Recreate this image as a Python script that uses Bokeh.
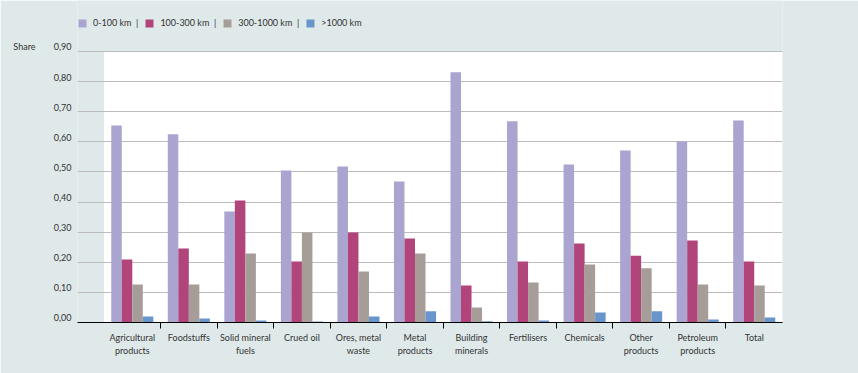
from bokeh.plotting import figure
from bokeh.models import (Range1d, FixedTicker, Legend, LegendItem, BoxAnnotation,
                          ColumnDataSource, LinearAxis)
from bokeh.transform import dodge
from bokeh.embed import file_html
from bokeh.resources import INLINE

# ---------------- data ----------------
categories = ["Agricultural\nproducts", "Foodstuffs", "Solid mineral\nfuels", "Crued oil",
              "Ores, metal\nwaste", "Metal\nproducts", "Building\nminerals", "Fertilisers",
              "Chemicals", "Other\nproducts", "Petroleum\nproducts", "Total"]
km_0_100 = [0.654, 0.625, 0.369, 0.505, 0.518, 0.468, 0.831, 0.668, 0.525, 0.571, 0.601, 0.671]
km_100_300 = [0.209, 0.246, 0.405, 0.203, 0.299, 0.279, 0.123, 0.203, 0.262, 0.222, 0.272, 0.203]
km_300_1000 = [0.126, 0.126, 0.229, 0.299, 0.169, 0.229, 0.050, 0.133, 0.193, 0.180, 0.126, 0.123]
km_over_1000 = [0.020, 0.013, 0.007, 0.003, 0.020, 0.037, 0.004, 0.007, 0.033, 0.037, 0.010, 0.017]
series_labels = ["0-100 km  |", "100-300 km  |", "300-1000 km  |", ">1000 km"]
y_ticks = [0.0, 0.1, 0.2, 0.3, 0.4, 0.5, 0.6, 0.7, 0.8, 0.9]
y_tick_labels = ["0,00", "0,10", "0,20", "0,30", "0,40", "0,50", "0,60", "0,70", "0,80", "0,90"]
y_title = "Share"
y_max = 0.9

# ---------------- styles ----------------
BG = "#dfe9e9"
COLORS = ["#a9a4d0", "#b0447b", "#a69d98", "#6895cc"]
FONT = "Lato"
TXT = "#333333"
BAR_W = 0.186
LABEL_LIFT = 0.015   # tick labels sit a few pixels above their grid line

centers = [i + 0.5 for i in range(len(categories))]
boundaries = [float(i) for i in range(1, len(categories))]
label_pos = [round(t + LABEL_LIFT, 4) for t in y_ticks]

source = ColumnDataSource(dict(x=centers, a=km_0_100, b=km_100_300, c=km_300_1000, d=km_over_1000))

# frame spans from the very top (legend lives inside it), y_max sits 51px below the top
p = figure(width=858, height=373, output_backend="svg", toolbar_location=None,
           x_range=Range1d(-0.469, 12), y_range=Range1d(0, 1.0694),
           min_border_left=77, min_border_right=76, min_border_top=0, min_border_bottom=51)
p.border_fill_color = BG
p.background_fill_color = BG
p.outline_line_color = None

p.add_layout(BoxAnnotation(left=0, right=12, bottom=0, top=y_max, fill_color="white",
                           fill_alpha=1, line_color=None, level="image"))

renderers = []
for i, col in enumerate(["a", "b", "c", "d"]):
    off = (i - 1.5) * BAR_W
    r = p.vbar(x=dodge("x", off), top=col, width=BAR_W, source=source,
               fill_color=COLORS[i], line_color=None)
    renderers.append(r)

# grid
p.xgrid.visible = False
p.ygrid.ticker = FixedTicker(ticks=y_ticks)
p.ygrid.grid_line_color = "#bcbcbc"
p.ygrid.grid_line_width = 1


def style_y(ax, standoff):
    ax.axis_line_color = None
    ax.major_tick_line_color = None
    ax.minor_tick_line_color = None
    ax.major_tick_out = 0
    ax.major_tick_in = 0
    ax.minor_tick_out = 0
    ax.major_label_standoff = standoff
    ax.major_label_text_font = FONT
    ax.major_label_text_font_size = "9px"
    ax.major_label_text_color = TXT


# y axis (values)
yax = p.yaxis[0]
yax.ticker = FixedTicker(ticks=label_pos)
yax.major_label_overrides = {t: l for t, l in zip(label_pos, y_tick_labels)}
style_y(yax, 6)

# second left axis carrying the "Share" title at the level of the top tick
title_pos = round(y_max + LABEL_LIFT, 4)
tax = LinearAxis(ticker=FixedTicker(ticks=[title_pos]),
                 major_label_overrides={title_pos: y_title})
style_y(tax, 15)
p.add_layout(tax, "left")

# x axis
p.xaxis.ticker = FixedTicker(ticks=centers, minor_ticks=boundaries)
p.xaxis.major_label_overrides = {c: l for c, l in zip(centers, categories)}
p.xaxis.axis_line_color = "black"
p.xaxis.axis_line_width = 1
p.xaxis.major_tick_line_color = None
p.xaxis.major_tick_out = 6
p.xaxis.major_tick_in = 0
p.xaxis.minor_tick_line_color = "black"
p.xaxis.minor_tick_out = 6
p.xaxis.minor_tick_in = 0
p.xaxis.major_label_standoff = 3
p.xaxis.major_label_text_font = FONT
p.xaxis.major_label_text_font_size = "9px"
p.xaxis.major_label_text_color = TXT

# legend (inside the frame, above the white plotting box)
legend = Legend(items=[LegendItem(label=series_labels[i], renderers=[renderers[i]]) for i in range(4)],
                orientation="horizontal", location=(0, 294),
                glyph_width=10, glyph_height=10, label_height=10, label_standoff=6,
                spacing=6, padding=0, margin=0,
                background_fill_alpha=0, border_line_color=None,
                label_text_font=FONT, label_text_font_size="9px", label_text_color=TXT)
p.add_layout(legend, "center")

open("out.html", "w").write(file_html(p, INLINE))
